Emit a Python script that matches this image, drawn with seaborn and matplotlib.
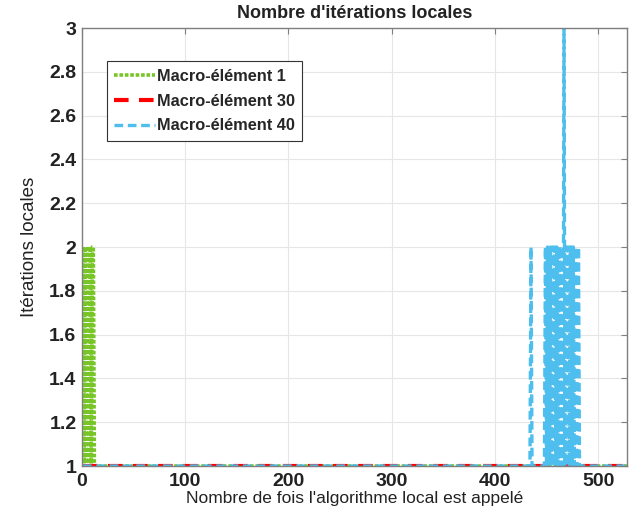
import matplotlib
matplotlib.use("Agg")
import matplotlib.pyplot as plt
import seaborn as sns

# Macro-element 1 (green): early spikes, then flat at 1 up to the last call
x_me1 = [1, 2, 3, 4, 5, 6, 7, 8, 9, 10, 11, 12, 13, 528]
y_me1 = [2, 1, 2, 1, 2, 2, 1, 2, 1, 2, 2, 1, 1, 1]

# Macro-element 30 (red): always 1
x_me30 = [1, 528]
y_me30 = [1, 1]

# Macro-element 40 (blue): spikes near the end
x_me40 = [1, 434, 435, 436,
          448, 449, 450, 451, 452, 453, 454, 455, 456, 457, 458, 459,
          460, 461, 462, 463, 464, 465, 466, 467, 468, 469, 470, 471,
          472, 473, 474, 475, 476, 477, 478, 479, 480, 481, 482, 483, 528]
y_me40 = [1, 1, 2, 1,
          1, 2, 1, 2, 1, 1, 2, 1, 2, 1, 2, 1,
          2, 1, 2, 2, 1, 2, 1, 3, 1, 2, 1, 2,
          1, 2, 2, 1, 2, 1, 2, 1, 1, 2, 1, 1, 1]

x_ticks = [0, 100, 200, 300, 400, 500]
y_ticks = [1, 1.2, 1.4, 1.6, 1.8, 2, 2.2, 2.4, 2.6, 2.8, 3]
y_tick_labels = ["1", "1.2", "1.4", "1.6", "1.8", "2", "2.2", "2.4", "2.6", "2.8", "3"]

sns.set_style("whitegrid")
plt.rcParams["font.family"] = ["Liberation Sans", "DejaVu Sans"]

fig = plt.figure(figsize=(6.33, 5.15), dpi=100)
ax = fig.add_axes([0.1295, 0.0951, 0.861, 0.8505])

sns.lineplot(x=x_me1, y=y_me1, ax=ax, color="#77C526", linewidth=2.6,
             linestyle=(0, (1, 0.5)), label="Macro-élément 1", sort=False)
sns.lineplot(x=x_me30, y=y_me30, ax=ax, color="#FF0000", linewidth=3.0,
             linestyle=(0, (3.5, 2.5)), label="Macro-élément 30", sort=False)
sns.lineplot(x=x_me40, y=y_me40, ax=ax, color="#4DBEEE", linewidth=2.4,
             linestyle=(0, (2.6, 1.4)), label="Macro-élément 40", sort=False)

ax.set_xlim(0, 528)
ax.set_ylim(1, 3)
ax.set_xticks(x_ticks)
ax.set_yticks(y_ticks)
ax.set_yticklabels(y_tick_labels)
ax.grid(True, color="#E6E6E6", linewidth=0.8)
for side in ["left", "right", "top", "bottom"]:
    ax.spines[side].set_visible(True)
    ax.spines[side].set_color("#7F7F7F")
    ax.spines[side].set_linewidth(1.0)
ax.tick_params(axis="both", direction="in", length=4, width=0.8, color="#7F7F7F",
               labelsize=14, top=True, right=True, pad=4)
ax.tick_params(axis="x", pad=5)
for lbl in ax.get_xticklabels() + ax.get_yticklabels():
    lbl.set_fontweight("bold")
    lbl.set_color("#222222")

ax.set_title("Nombre d'itérations locales", fontsize=13, fontweight="bold",
             color="#222222", pad=7)
ax.set_xlabel("Nombre de fois l'algorithme local est appelé", fontsize=12.5,
              color="#222222", labelpad=1)
ax.set_ylabel("Itérations locales", fontsize=13.5, color="#222222", labelpad=8)

leg = ax.legend(loc="upper left", bbox_to_anchor=(0.046, 0.924), fontsize=11.8,
                frameon=True, fancybox=False, handlelength=2.45, handletextpad=0.15,
                borderpad=0.45, labelspacing=0.6, borderaxespad=0)
leg.get_frame().set_edgecolor("#333333")
leg.get_frame().set_linewidth(0.8)
leg.get_frame().set_alpha(1)
for t in leg.get_texts():
    t.set_fontweight("bold")

fig.savefig("out.png", dpi=100)
plt.close(fig)
